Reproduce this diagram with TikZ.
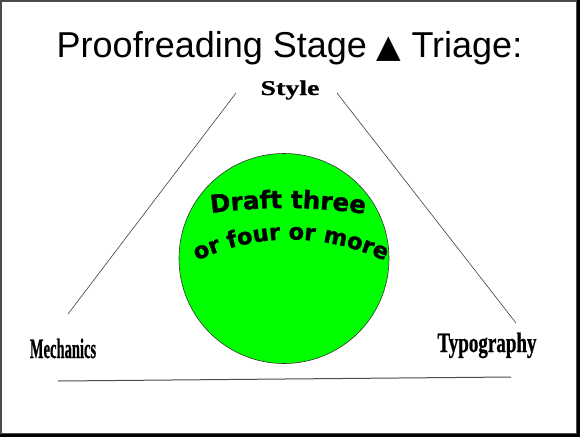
\documentclass[tikz,border=0pt]{standalone}
\usepackage{fontspec}
\setmainfont{Liberation Serif}
\newfontfamily\titlefont{Liberation Sans}
\newfontfamily\symfont{DejaVu Sans}
\newfontfamily\circfont[FakeBold=1.2]{DejaVu Sans Bold}
\newfontfamily\labfont[FakeBold=0.8]{Liberation Serif Bold}
\usetikzlibrary{decorations.text}
\begin{document}
\begin{tikzpicture}[x=1pt,y=1pt,
  thinline/.style={draw=black!75, line width=0.6pt},
  baseline/.style={draw=black!70, line width=1pt},
  labelnode/.style={inner sep=0pt, anchor=base},
  ball/.style={circle, draw=black!80, line width=0.6pt, fill=green!100, minimum size=210pt, inner sep=0pt}]
\useasboundingbox (0,0) rectangle (580,-437);
% frame
\fill[black] (0,0) rectangle (580,-437);
\fill[black!70] (0,0) rectangle (577,-434);
\fill[white] (2,-2) rectangle (576,-433);
% title
\node[labelnode] (title) at (289.5,-57) {\titlefont\fontsize{36}{40}\selectfont Proofreading Stage {\symfont\fontsize{32}{40}\selectfont ▲} Triage:};
% labels
\node[labelnode] (style) at (290,-95) {\scalebox{1.33}[1]{\labfont\fontsize{21}{24}\selectfont Style}};
\node[labelnode] (mech) at (63,-358) {\scalebox{0.52}[1]{\labfont\fontsize{28}{30}\selectfont Mechanics}};
\node[labelnode] (typo) at (487,-352) {\scalebox{0.68}[1]{\labfont\fontsize{28}{30}\selectfont Typography}};
% triangle sides
\coordinate (lt) at (236,-93);
\coordinate (lb) at (68,-314);
\coordinate (rt) at (337,-93);
\coordinate (rb) at (516,-323);
\coordinate (bl) at (58,-381);
\coordinate (br) at (511,-377);
\draw[thinline] (lt) -- (lb);
\draw[thinline] (rt) -- (rb);
\draw[baseline] (bl) -- (br);
% circle
\node[ball] (c) at (284,-258.5) {};
\path[decorate, decoration={text along path, text align=center,
  text={|\circfont\fontsize{24.5}{26}\selectfont|Draft three}}]
  (204,-214) .. controls (260,-206) and (316,-206) .. (372,-215);
\path[decorate, decoration={text along path, text align=center,
  text={|\circfont\fontsize{22.5}{26}\selectfont|or four or more}}]
  (194,-262) .. controls (258,-232) and (322,-232) .. (388,-262);
\end{tikzpicture}
\end{document}
